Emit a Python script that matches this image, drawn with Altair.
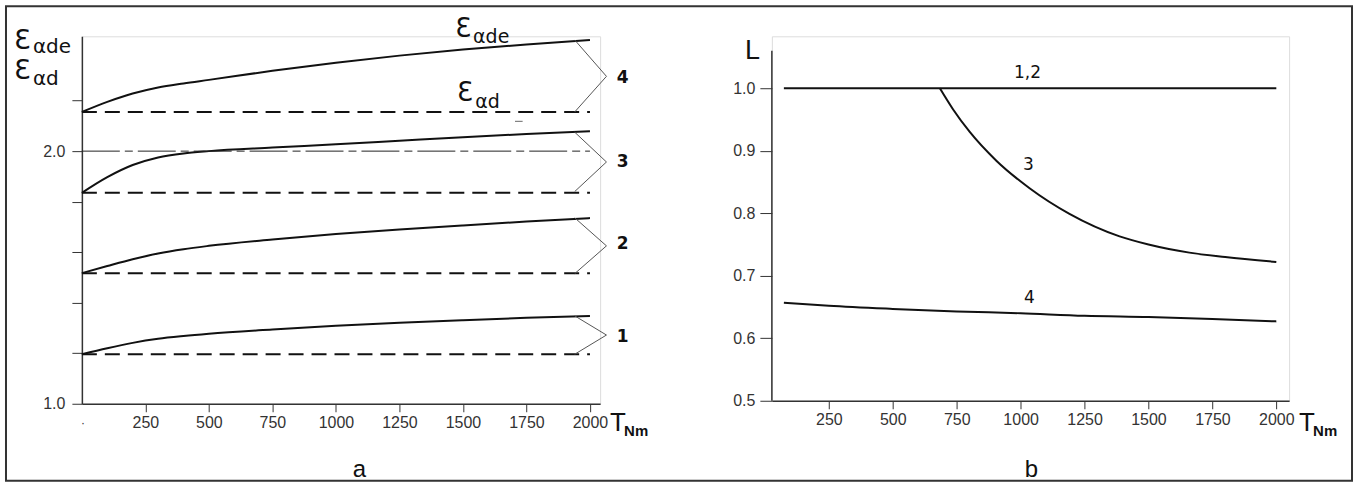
import altair as alt
import pandas as pd

# ---------------- data: panel a ----------------
T_A = [0, 100, 200, 300, 400, 500, 750, 1000, 1250, 1500, 1750, 2000]
EDE_1 = [1.196, 1.220, 1.241, 1.257, 1.268, 1.277, 1.294, 1.309, 1.321, 1.331, 1.340, 1.347]
EDE_2 = [1.517, 1.545, 1.572, 1.595, 1.612, 1.625, 1.650, 1.672, 1.690, 1.706, 1.721, 1.735]
EDE_3 = [1.835, 1.897, 1.945, 1.975, 1.991, 2.000, 2.014, 2.027, 2.041, 2.055, 2.068, 2.079]
EDE_4 = [2.155, 2.195, 2.228, 2.252, 2.268, 2.282, 2.318, 2.350, 2.378, 2.402, 2.422, 2.440]
ED = {"1": 1.196, "2": 1.517, "3": 1.835, "4": 2.155}
ED_T = [0, 2000]
GROUPS = ["1", "2", "3", "4"]
BRACKET_TOP = [1.348, 1.736, 2.075, 2.440]
BRACKET_TIP = [1.272, 1.625, 1.957, 2.296]
BRACKET_BOT = [1.196, 1.515, 1.840, 2.155]
BRACKET_T = [1940, 2065, 1940]
GROUP_LABEL_Y = [1.265, 1.632, 1.957, 2.289]
REF_LEVEL = 2.0
X_TICKS = [250, 500, 750, 1000, 1250, 1500, 1750, 2000]
Y_TICKS_A = [round(1.0 + 0.1 * i, 1) for i in range(13)]

# ---------------- data: panel b ----------------
T_B12 = [74, 2000]
L_12 = [1.0, 1.0]
T_B3 = [684, 736, 801, 905, 1035, 1191, 1387, 1500, 1660, 1800, 2000]
L_3 = [1.0, 0.966, 0.930, 0.884, 0.840, 0.799, 0.763, 0.750, 0.737, 0.730, 0.722]
T_B4 = [74, 250, 500, 750, 1000, 1250, 1500, 1750, 2000]
L_4 = [0.657, 0.652, 0.647, 0.643, 0.640, 0.636, 0.634, 0.631, 0.627]
Y_TICKS_B = [0.5, 0.6, 0.7, 0.8, 0.9, 1.0]

FONT = "Liberation Sans"
INK = "#111"
AX = "#333"
LBL = 16

# ---------- panel a frames ----------
solid_rows = []
for g, vals in zip(GROUPS, [EDE_1, EDE_2, EDE_3, EDE_4]):
    for t, v in zip(T_A, vals):
        solid_rows.append({"T": t, "v": v, "g": g})
solid_df = pd.DataFrame(solid_rows)

dash_rows = []
for g in GROUPS:
    for t in ED_T:
        dash_rows.append({"T": t, "v": ED[g], "g": g})
dash_df = pd.DataFrame(dash_rows)

ref_df = pd.DataFrame({"T": ED_T, "v": [REF_LEVEL, REF_LEVEL]})

br_rows = []
for g, a, b, c in zip(GROUPS, BRACKET_TOP, BRACKET_TIP, BRACKET_BOT):
    for i, (t, v) in enumerate(zip(BRACKET_T, [a, b, c])):
        br_rows.append({"T": t, "v": v, "g": g, "o": i})
br_df = pd.DataFrame(br_rows)

glab_df = pd.DataFrame({"T": [2105] * 4, "v": GROUP_LABEL_Y, "txt": GROUPS})

W_A, H_A = 519, 368
xa = alt.X("T:Q", scale=alt.Scale(domain=[0, 2040], nice=False, zero=False),
           axis=alt.Axis(values=X_TICKS, format="d", title=None, grid=False, tickSize=8,
                         labelFont=FONT, labelFontSize=LBL, labelColor=AX, labelPadding=3,
                         domainColor=AX, tickColor=AX, domainWidth=1.5, labelFlush=False))
ya = alt.Y("v:Q", scale=alt.Scale(domain=[1.0, 2.4545], nice=False, zero=False),
           axis=alt.Axis(values=Y_TICKS_A, title=None, grid=False, tickSize=10,
                         labelExpr="(abs(datum.value*2 - round(datum.value*2)) < 0.01) ? format(datum.value, '.1f') : ''",
                         labelFont=FONT, labelFontSize=LBL, labelColor=AX, labelPadding=7,
                         domainColor=AX, tickColor=AX, domainWidth=1.5, labelFlush=False))

solid = alt.Chart(solid_df).mark_line(color=INK, strokeWidth=2, interpolate="monotone").encode(
    x=xa, y=ya, detail="g:N")
dashed = alt.Chart(dash_df).mark_line(color=INK, strokeWidth=2, strokeDash=[15, 8]).encode(
    x="T:Q", y="v:Q", detail="g:N")
refline = alt.Chart(ref_df).mark_line(color="#222", strokeWidth=1, strokeDash=[38, 5, 8, 5]).encode(
    x="T:Q", y="v:Q")
brackets = alt.Chart(br_df).mark_line(color="#555", strokeWidth=1, clip=False).encode(
    x="T:Q", y="v:Q", detail="g:N", order="o:Q")
glabels = alt.Chart(glab_df).mark_text(font="DejaVu Sans", fontSize=17, fontWeight="bold",
                                       color=INK, align="left", baseline="middle").encode(
    x="T:Q", y="v:Q", text="txt:N")

one = pd.DataFrame({"k": [0]})

def txt(s, x, y, size, font="DejaVu Sans", weight="normal", align="left", baseline="alphabetic", color=INK):
    return alt.Chart(one).mark_text(font=font, fontSize=size, fontWeight=weight, align=align,
                                    baseline=baseline, color=color).encode(
        x=alt.value(x), y=alt.value(y), text=alt.value(s))

def dtxt(s, t, v, size, font="DejaVu Sans", align="left"):
    return alt.Chart(pd.DataFrame({"T": [t], "v": [v], "s": [s]})).mark_text(
        font=font, fontSize=size, align=align, baseline="alphabetic", color=INK).encode(
        x="T:Q", y="v:Q", text="s:N")

# curve-name annotations in panel a
ann_a = [
    dtxt("Ɛ", 1470, 2.450, 26),
    dtxt("αde", 1540, 2.427, 19),
    dtxt("Ɛ", 1477, 2.198, 26),
    dtxt("αd", 1548, 2.170, 19),
]
underscore = alt.Chart(pd.DataFrame({"T": [1705], "T2": [1735], "v": [2.118]})).mark_rule(
    color="#666", strokeWidth=1).encode(x="T:Q", x2="T2:Q", y="v:Q")

# axis titles for panel a
ax_a = [
    txt("Ɛ", -68, 13, 27),
    txt("αde", -49, 17, 20),
    txt("Ɛ", -68, 43, 27),
    txt("αd", -49, 49, 20),
    txt("T", 529, 395, 26, font=FONT),
    txt("Nm", 543, 400, 15, font=FONT, weight="bold"),
    txt("·", 1, 391, 12, font=FONT, align="center", color=AX),
    txt("a", 278, 441, 24, font=FONT, align="center"),
]

frame = alt.Chart(one).mark_rect(fillOpacity=0, stroke="#333", strokeWidth=2).encode(
    x=alt.value(-76), x2=alt.value(1272), y=alt.value(-30), y2=alt.value(445))

left = alt.layer(solid, dashed, refline, brackets, glabels, *ann_a, underscore, *ax_a, frame).properties(
    width=W_A, height=H_A)

# ---------- panel b ----------
b_rows = []
for name, ts, ls in [("12", T_B12, L_12), ("3", T_B3, L_3), ("4", T_B4, L_4)]:
    for t, l in zip(ts, ls):
        b_rows.append({"T": t, "L": l, "g": name})
b_df = pd.DataFrame(b_rows)

W_B, H_B = 518, 365
xb = alt.X("T:Q", scale=alt.Scale(domain=[27, 2050], nice=False, zero=False),
           axis=alt.Axis(values=X_TICKS, format="d", title=None, grid=False, tickSize=8,
                         labelFont=FONT, labelFontSize=LBL, labelColor=AX, labelPadding=3,
                         domainColor=AX, tickColor=AX, domainWidth=1.5, labelFlush=False))
yb = alt.Y("L:Q", scale=alt.Scale(domain=[0.5, 1.0831], nice=False, zero=False),
           axis=alt.Axis(values=Y_TICKS_B, format=".1f", title=None, grid=False, tickSize=12,
                         labelFont=FONT, labelFontSize=LBL, labelColor=AX, labelPadding=5,
                         domain=False, tickColor=AX, labelFlush=False))

curves_b = alt.Chart(b_df).mark_line(color=INK, strokeWidth=2, interpolate="monotone").encode(
    x=xb, y=yb, detail="g:N")
yline = alt.Chart(one).mark_rule(color=AX, strokeWidth=1.5).encode(
    x=alt.value(0), y=alt.datum(0.5), y2=alt.datum(1.06))

blab_df = pd.DataFrame({"T": [1027, 1030, 1034], "L": [1.024, 0.877, 0.665], "s": ["1,2", "3", "4"]})
blabels = alt.Chart(blab_df).mark_text(font="DejaVu Sans", fontSize=17, color=INK,
                                       align="center", baseline="middle").encode(
    x="T:Q", y="L:Q", text="s:N")

ax_b = [
    txt("L", -27, 23, 27, font=FONT),
    txt("T", 528, 395, 26, font=FONT),
    txt("Nm", 542, 400, 15, font=FONT, weight="bold"),
    txt("b", 260, 441, 24, font=FONT, align="center"),
]

right = alt.layer(curves_b, yline, blabels, *ax_b).properties(width=W_B, height=H_B)

chart = alt.hconcat(left, right, spacing=172, bounds="flush").properties(
    padding={"left": 4, "top": 4, "right": 4, "bottom": 1}
).configure_view(stroke=None).configure(background="white")

chart.save("out.html", embed_options={"renderer": "svg", "actions": False})
